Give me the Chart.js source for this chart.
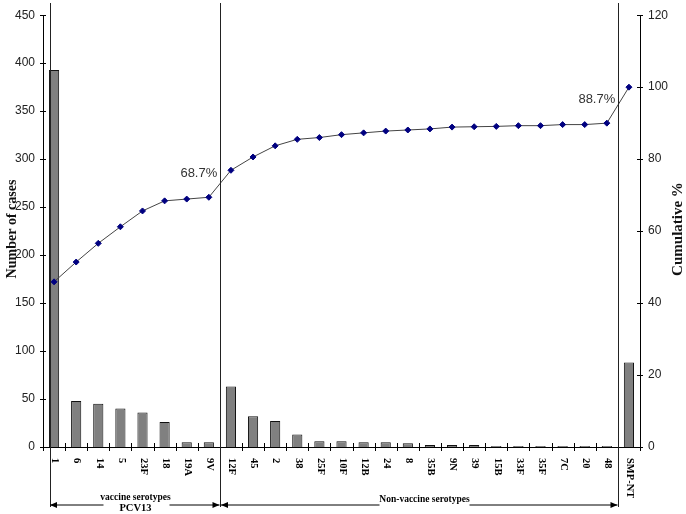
<!DOCTYPE html>
<html><head><meta charset="utf-8">
<script src="https://cdn.jsdelivr.net/npm/chart.js@4/dist/chart.umd.min.js"></script>
<style>html,body{margin:0;padding:0;background:#fff}#wrap{width:686px;height:514px;position:relative}</style>
</head><body><div id="wrap"><canvas id="c" width="686" height="514"></canvas></div>
<script>
const categories = ['1','6','14','5','23F','18','19A','9V','12F','45','2','38','25F','10F','12B','24','8','35B','9N','39','15B','33F','35F','7C','20','48','SMP-NT'];
const cases = [393,48,45,40,36,26,5,5,63,32,27,13,6,6,5,5,4,2,2,2,1,1,1,1,1,1,88];
const cumulative = [45.9,51.4,56.6,61.2,65.6,68.4,68.9,69.4,76.9,80.6,83.7,85.5,86.0,86.8,87.3,87.8,88.1,88.4,88.9,89.0,89.1,89.3,89.3,89.6,89.6,90.0,100];
const casesTicks = [0,50,100,150,200,250,300,350,400,450];
const percentTicks = [0,20,40,60,80,100,120];
const pointLabelIndex = [7, 25];
const pointLabelText = ['68.7%', '88.7%'];
const leftTitle = 'Number of cases';
const rightTitle = 'Cumulative %';
const vaccineText = ['vaccine serotypes', 'PCV13'];
const nonVaccineText = 'Non-vaccine serotypes';
// separators after these category indexes (group boundaries)
const groupEnds = [7, 25];

const SERIF = '"Liberation Serif","Times New Roman",serif';
const SANS = '"Liberation Sans Narrow","Liberation Sans",Arial,sans-serif';

function arrowHead(ctx, x, y, dir) {
  ctx.beginPath();
  ctx.moveTo(x, y);
  ctx.lineTo(x - dir * 7, y - 3);
  ctx.lineTo(x - dir * 7, y + 3);
  ctx.closePath();
  ctx.fill();
}
function hline(ctx, x1, x2, y) {
  ctx.beginPath(); ctx.moveTo(x1, y + 0.5); ctx.lineTo(x2, y + 0.5); ctx.stroke();
}

const overlay = {
  id: 'overlay',
  afterDraw(chart) {
    const ctx = chart.ctx;
    const xs = chart.scales.x, yl = chart.scales.y, yr = chart.scales.y1;
    const cat = xs.getPixelForValue(1) - xs.getPixelForValue(0);
    const bottom = yl.getPixelForValue(0);
    ctx.save();
    ctx.strokeStyle = '#000';
    ctx.fillStyle = '#000';
    ctx.lineWidth = 1;
    // y ticks (crossing)
    yl.ticks.forEach(t => {
      const y = Math.round(yl.getPixelForValue(t.value)) + 0.5;
      ctx.beginPath(); ctx.moveTo(yl.right - 3, y); ctx.lineTo(yl.right + 3, y); ctx.stroke();
    });
    yr.ticks.forEach(t => {
      const y = Math.round(yr.getPixelForValue(t.value)) + 0.5;
      ctx.beginPath(); ctx.moveTo(yr.left - 3, y); ctx.lineTo(yr.left + 3, y); ctx.stroke();
    });
    // x ticks at category boundaries
    for (let i = 0; i <= categories.length; i++) {
      const x = Math.round(xs.getPixelForValue(0) - cat / 2 + i * cat) + 0.5;
      ctx.beginPath(); ctx.moveTo(x, bottom - 4); ctx.lineTo(x, bottom + 4); ctx.stroke();
    }
    // category labels, rotated to read downward
    ctx.font = 'bold 10.5px ' + SERIF;
    ctx.textAlign = 'left';
    ctx.textBaseline = 'middle';
    categories.forEach((c, i) => {
      const x = xs.getPixelForValue(i);
      ctx.save();
      ctx.translate(x + 1, bottom + 11);
      ctx.rotate(Math.PI / 2);
      ctx.fillText(c, 0, 0);
      ctx.restore();
    });
    // separators
    const sepX = [Math.round(xs.getPixelForValue(0) - cat * 0.2) + 0.5];
    groupEnds.forEach(i => sepX.push(Math.round(xs.getPixelForValue(i) + cat / 2) + 0.5));
    ctx.strokeStyle = '#222';
    sepX.forEach(x => { ctx.beginPath(); ctx.moveTo(x, 3); ctx.lineTo(x, 507); ctx.stroke(); });
    // arrows
    const ay = 505;
    ctx.strokeStyle = '#000';
    const vMid = (sepX[0] + sepX[1]) / 2;
    hline(ctx, sepX[0], vMid - 32, ay - 0.5);
    hline(ctx, vMid + 34, sepX[1] - 1, ay - 0.5);
    arrowHead(ctx, sepX[0] - 0.5, ay, -1);
    arrowHead(ctx, sepX[1] - 1, ay, 1);
    const nMid = (sepX[1] + sepX[2]) / 2 + 5;
    hline(ctx, sepX[1], nMid - 45, ay - 0.5);
    hline(ctx, nMid + 45, sepX[2] - 1, ay - 0.5);
    arrowHead(ctx, sepX[1] + 0.5, ay, -1);
    arrowHead(ctx, sepX[2] - 1, ay, 1);
    ctx.textAlign = 'center';
    ctx.font = 'bold 9.5px ' + SERIF;
    ctx.fillText(vaccineText[0], vMid, 498);
    ctx.font = 'bold 10.5px ' + SERIF;
    ctx.fillText(vaccineText[1], vMid, 508);
    ctx.font = 'bold 9.5px ' + SERIF;
    ctx.fillText(nonVaccineText, nMid, 500);
    // point labels
    const meta = chart.getDatasetMeta(1);
    ctx.font = '13px ' + '"Liberation Sans",Arial,sans-serif';
    ctx.fillStyle = '#333';
    pointLabelIndex.forEach((idx, k) => {
      const p = meta.data[idx];
      ctx.fillText(pointLabelText[k], p.x - 10, p.y - 24);
    });
    // axis titles
    ctx.fillStyle = '#111';
    ctx.textBaseline = 'alphabetic';
    ctx.font = 'bold 14px ' + SERIF;
    ctx.save(); ctx.translate(16, 229); ctx.rotate(-Math.PI / 2); ctx.fillText(leftTitle, 0, 0); ctx.restore();
    ctx.font = 'bold 15px ' + SERIF;
    ctx.save(); ctx.translate(682, 229); ctx.rotate(-Math.PI / 2); ctx.fillText(rightTitle, 0, 0); ctx.restore();
    ctx.restore();
  }
};

new Chart(document.getElementById('c'), {
  data: {
    labels: categories,
    datasets: [
      {
        type: 'bar', label: 'Number of cases', data: cases, yAxisID: 'y', order: 2,
        backgroundColor: '#808080', borderColor: '#111', borderWidth: 1,
        barPercentage: 0.46, categoryPercentage: 1
      },
      {
        type: 'line', label: 'Cumulative %', data: cumulative, yAxisID: 'y1', order: 1,
        borderColor: '#444', borderWidth: 1, tension: 0, fill: false,
        pointStyle: 'rectRot', pointRadius: 3, pointBackgroundColor: '#000080', pointBorderColor: '#000080', pointBorderWidth: 1
      }
    ]
  },
  options: {
    responsive: false, animation: false, devicePixelRatio: 1,
    layout: { padding: { top: 15, left: 0, right: 0, bottom: 0 } },
    plugins: { legend: { display: false }, tooltip: { enabled: false } },
    scales: {
      x: {
        type: 'category', offset: true,
        grid: { display: false, drawTicks: false },
        border: { display: true, color: '#000', width: 1 },
        ticks: { display: false },
        afterFit(s) { s.height = 67; }
      },
      y: {
        position: 'left', min: 0, max: 450,
        afterBuildTicks(s) { s.ticks = casesTicks.map(v => ({ value: v })); },
        grid: { display: false, drawTicks: false },
        border: { display: true, color: '#000', width: 1 },
        ticks: { padding: 8, color: '#222', font: { family: SANS, size: 12 } },
        afterFit(s) { s.width = 43; }
      },
      y1: {
        position: 'right', min: 0, max: 120,
        afterBuildTicks(s) { s.ticks = percentTicks.map(v => ({ value: v })); },
        grid: { display: false, drawTicks: false },
        border: { display: true, color: '#000', width: 1 },
        ticks: { padding: 8, color: '#222', font: { family: SANS, size: 12 } },
        afterFit(s) { s.width = 46; }
      }
    }
  },
  plugins: [overlay]
});
</script></body></html>
